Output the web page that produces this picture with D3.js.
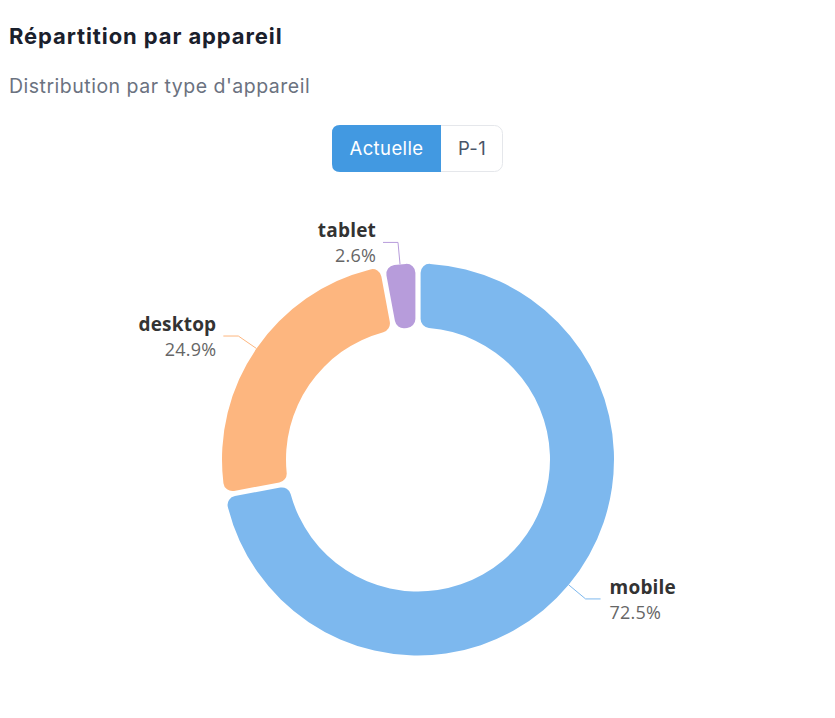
<!DOCTYPE html>
<html><head><meta charset="utf-8">
<script src="https://cdn.jsdelivr.net/npm/d3@7"></script>
<style>
html,body{margin:0;padding:0;background:#fff;}
svg{display:block;}
</style></head>
<body>
<svg id="chart" width="835" height="718"></svg>
<script>
const categories = ["mobile", "desktop", "tablet"];
const values = [72.5, 24.9, 2.6];
const colors = ["#7db8ee", "#fdb67f", "#b79cdb"];
const periods = ["Actuelle", "P-1"];
const title = "Répartition par appareil";
const subtitle = "Distribution par type d'appareil";

const svg = d3.select("#chart");
svg.append("text").attr("x", 9).attr("y", 44)
  .attr("font-family", "Inter, 'Noto Sans', sans-serif").attr("font-weight", 700)
  .attr("font-size", 22).attr("letter-spacing", 0.9).attr("fill", "#1a202c").text(title);
svg.append("text").attr("x", 9).attr("y", 93)
  .attr("font-family", "Inter, 'Noto Sans', sans-serif")
  .attr("font-size", 19.5).attr("letter-spacing", 0.5).attr("fill", "#6b7280").text(subtitle);

// toggle buttons
const btn = svg.append("g");
const bx = 332, by = 125, bh = 47, bw = [109, 62];
btn.append("rect").attr("x", bx + 0.5).attr("y", by + 0.5).attr("width", bw[0] + bw[1] - 1).attr("height", bh - 1)
  .attr("rx", 8).attr("fill", "#fff").attr("stroke", "#e5e7eb");
btn.append("path")
  .attr("d", `M${bx + bw[0]},${by} H${bx + 8} Q${bx},${by} ${bx},${by + 8} V${by + bh - 8} Q${bx},${by + bh} ${bx + 8},${by + bh} H${bx + bw[0]} Z`)
  .attr("fill", "#4299e1");
btn.append("text").attr("x", bx + bw[0] / 2).attr("y", by + bh / 2 + 6.5)
  .attr("text-anchor", "middle").attr("font-family", "Inter, 'Noto Sans', sans-serif")
  .attr("font-size", 18.5).attr("letter-spacing", 0.4).attr("fill", "#fff").text(periods[0]);
btn.append("text").attr("x", bx + bw[0] + bw[1] / 2).attr("y", by + bh / 2 + 6.5)
  .attr("text-anchor", "middle").attr("font-family", "Inter, 'Noto Sans', sans-serif")
  .attr("font-size", 18.5).attr("letter-spacing", 0.4).attr("fill", "#4a5568").text(periods[1]);

// donut
const cx = 418, cy = 459.5, rOuter = 196, rInner = 132;
const data = categories.map((c, i) => ({ name: c, value: values[i], color: colors[i] }));
const pie = d3.pie().value(d => d.value).sort(null).padAngle(0.022);
const arcs = pie(data);
const arc = d3.arc().innerRadius(rInner).outerRadius(rOuter).cornerRadius(9);
const g = svg.append("g").attr("transform", `translate(${cx},${cy})`);
g.selectAll("path.slice").data(arcs).join("path").attr("class", "slice")
  .attr("d", arc).attr("fill", d => d.data.color);

// labels
const len1 = 22, len2 = 15;
arcs.forEach(a => {
  const mid = (a.startAngle + a.endAngle) / 2;
  const sx = Math.sin(mid), sy = -Math.cos(mid);
  const p0 = [sx * rOuter, sy * rOuter];
  const p1 = [sx * (rOuter + len1), sy * (rOuter + len1)];
  const right = sx >= 0;
  const p2 = [p1[0] + (right ? len2 : -len2), p1[1]];
  g.append("polyline").attr("points", [p0, p1, p2].map(p => p.join(",")).join(" "))
    .attr("fill", "none").attr("stroke", a.data.color).attr("stroke-width", 1);
  const tx = p2[0] + (right ? 9 : -7);
  const anchor = right ? "start" : "end";
  g.append("text").attr("x", tx).attr("y", p2[1] - 5).attr("text-anchor", anchor)
    .attr("font-family", "'Open Sans', 'Noto Sans', sans-serif").attr("font-weight", 700)
    .attr("font-size", 19).attr("letter-spacing", 0.2).attr("fill", "#333").text(a.data.name);
  g.append("text").attr("x", tx).attr("y", p2[1] + 20).attr("text-anchor", anchor)
    .attr("font-family", "'Open Sans', 'Noto Sans', sans-serif")
    .attr("font-size", 18).attr("letter-spacing", 0.2).attr("fill", "#666").text(d3.format(".1f")(a.data.value) + "%");
});
</script>
</body></html>
